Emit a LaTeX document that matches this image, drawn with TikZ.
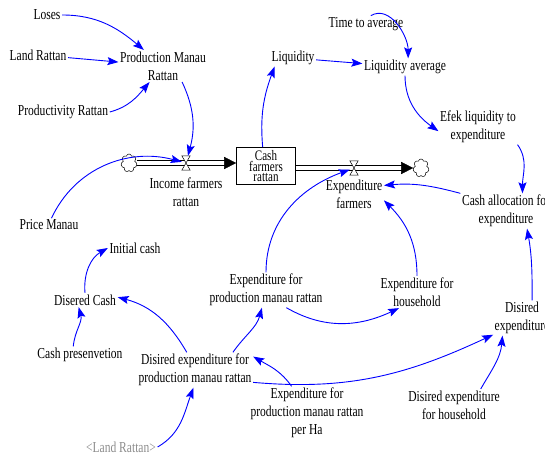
\documentclass[tikz,border=0pt]{standalone}
\usepackage{fontspec}
\setmainfont{Liberation Serif}[FakeStretch=0.76]
\usetikzlibrary{arrows.meta,shapes.symbols}

\begin{document}
\begin{tikzpicture}[x=1pt,y=1pt,
aux/.style={align=center, inner sep=1.5pt, font=\fontsize{15.2}{18}\selectfont},
ghost/.style={aux, text=black!45},
stockbox/.style={rectangle, draw=black, fill=white, line width=0.6pt, minimum width=59pt, minimum height=37pt, inner sep=0pt, align=center, font=\fontsize{14.5}{9.8}\selectfont},
valve/.style={minimum width=8pt, minimum height=14pt, inner sep=0pt},
valvebody/.style={draw=black, fill=white, line width=0.5pt},
sink/.style={cloud, cloud puffs=7, cloud puff arc=160, aspect=0.85, draw=black, fill=white, minimum width=16pt, minimum height=18pt, inner sep=0pt, line width=0.5pt},
pipe/.style={draw=black, line width=0.8pt, shorten >=10pt},
pipehead/.style={draw=white, line width=3pt, -{Triangle[length=12pt,width=12pt,black,line width=0.4pt]}},
link/.style={draw=blue, line width=0.9pt, -{Stealth[length=11pt,width=8pt,inset=2pt]}},
]
\useasboundingbox (0,0) rectangle (545,455);

\node[stockbox] (cash) at (266,289) {Cash\\farmers\\rattan};
\node[sink] (cin) at (129,292) {};
\node[sink] (cout) at (421,287) {};
\draw[pipehead] (cin.east) -- (cin.east -| cash.west);
\draw[pipe] ([yshift=2.2pt]cin.east) -- ([yshift=2.2pt]cin.east -| cash.west);
\draw[pipe] ([yshift=-2.2pt]cin.east) -- ([yshift=-2.2pt]cin.east -| cash.west);
\draw[pipehead] (cout.west -| cash.east) -- (cout.west);
\draw[pipe] ([yshift=2.2pt]cout.west -| cash.east) -- ([yshift=2.2pt]cout.west);
\draw[pipe] ([yshift=-2.2pt]cout.west -| cash.east) -- ([yshift=-2.2pt]cout.west);
\node[valve] (vin) at (186,292) {};
\node[valve] (vout) at (354,287) {};
\foreach \v in {vin,vout}
  \draw[valvebody] (\v.north west) -- (\v.north east) -- (\v.south west) -- (\v.south east) -- cycle;
\node[aux] (income) at (186,263) {Income farmers\\rattan};
\node[aux] (expfarm) at (354,261) {Expenditure\\farmers};

\node[aux] (loses) at (47,440) {Loses};
\node[aux] (landr) at (38,400) {Land Rattan};
\node[aux] (prodmr) at (163,389) {Production Manau\\Rattan};
\node[aux] (prodty) at (63,343) {Productivity Rattan};
\node[aux] (price) at (49,230) {Price Manau};
\node[aux] (liquidity) at (293,397) {Liquidity};
\node[aux] (timeavg) at (366,431) {Time to average};
\node[aux] (liqavg) at (405,388) {Liquidity average};
\node[aux] (efek) at (478,328) {Efek liquidity to\\expenditure};
\node[aux] (cashalloc) at (506,244) {Cash allocation for\\expenditure};
\node[aux] (initcash) at (135,207) {Initial cash};
\node[aux] (disercash) at (85,155) {Disered Cash};
\node[aux] (cashpres) at (80,100) {Cash presenvetion};
\node[aux] (expprod) at (266,165) {Expenditure for\\production manau rattan};
\node[aux] (exphouse) at (417,163) {Expenditure for\\household};
\node[aux] (disexp) at (522,137) {Disired\\expenditure};
\node[aux] (deprod) at (195,85) {Disired expenditure for\\production manau rattan};
\node[aux] (expha) at (307,42) {Expenditure for\\production manau rattan\\per Ha};
\node[aux] (dehouse) at (454,50) {Disired expenditure\\for household};
\node[ghost] (landghost) at (121,8) {<Land Rattan>};

\draw[link] (loses) to[out=0,in=140] (prodmr);
\draw[link] (landr) -- (prodmr);
\draw[link] (prodty.east) to[out=15,in=-130] (prodmr.-130);
\draw[link] (prodmr.-40) to[out=-65,in=75] (vin);
\draw[link] (price.70) to[out=65,in=165] (vin);
\draw[link] (cash.100) to[out=95,in=-110] (liquidity.205);
\draw[link] (liquidity) -- (liqavg);
\draw[link] (timeavg.60) to[out=30,in=90] (liqavg.70);
\draw[link] (liqavg.south) to[out=-90,in=145] (efek.186);
\draw[link] (efek.south east) to[out=-55,in=90] (cashalloc.47);
\draw[link] (cashalloc.north west) to[out=165,in=5] (expfarm.-12 |- expfarm.16);
\draw[link] (disexp.60) to[out=90,in=-80] (cashalloc.-40);
\draw[link] (expprod.north) to[out=90,in=-160] (vout);
\draw[link] (exphouse.north) to[out=90,in=-45] (expfarm.-12);
\draw[link] (expprod.-41) to[out=-30,in=205] (exphouse.222);
\draw[link] (deprod.25) to[out=55,in=-105] (expprod.-103);
\draw[link] (deprod.115) to[out=120,in=-15] (disercash.5);
\draw[link] (cashpres.128) to[out=85,in=-75] (disercash.228);
\draw[link] (disercash.north) to[out=95,in=-150] (initcash.west);
\draw[link] (deprod.-12) to[out=-5,in=-155] (disexp.210);
\draw[link] (expha.120) to[out=125,in=-30] (deprod.13);
\draw[link] (landghost.east) to[out=30,in=-110] (deprod.-95);
\draw[link] (dehouse.31) to[out=60,in=-95] (disexp.222);
\end{tikzpicture}
\end{document}
